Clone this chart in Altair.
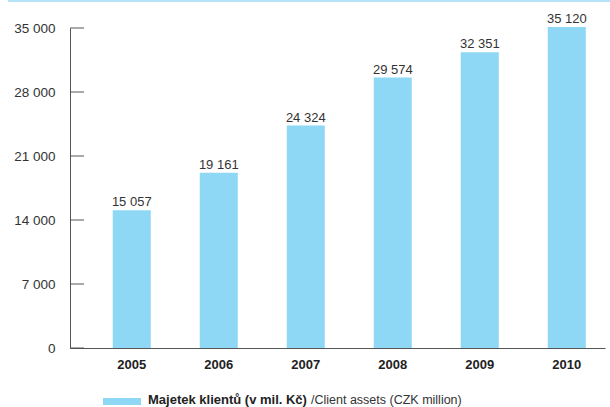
import altair as alt
import pandas as pd

years = ["2005", "2006", "2007", "2008", "2009", "2010"]
values = [15057, 19161, 24324, 29574, 32351, 35120]
y_ticks = [0, 7000, 14000, 21000, 28000, 35000]
legend_bold = "Majetek klientů (v mil. Kč)"
legend_regular = "/Client assets (CZK million)"

BAR = "#8ed8f6"
FONT = "Liberation Sans"
TXT = "#333333"

df = pd.DataFrame({"year": years, "value": values})
ticks_df = pd.DataFrame({"t": y_ticks})

x_enc = alt.X("year:N", title=None,
              scale=alt.Scale(paddingInner=0.563, paddingOuter=0.356, align=0.69),
              axis=alt.Axis(labelAngle=0, ticks=False, domainColor="#555555",
                            labelFont=FONT, labelFontSize=13, labelFontWeight="bold",
                            labelColor="#222222", labelPadding=10))
y_scale = alt.Scale(domain=[0, 35000], nice=False)

bars = alt.Chart(df).mark_bar(color=BAR).encode(
    x=x_enc,
    y=alt.Y("value:Q", title=None, scale=y_scale,
            axis=alt.Axis(values=y_ticks, ticks=False, grid=False, domainColor="#555555",
                          labelFont=FONT, labelFontSize=13.5, labelColor=TXT, labelPadding=15,
                          labelExpr="replace(format(datum.value, ','), ',', ' ')")),
)

labels = alt.Chart(df).transform_calculate(
    lab="replace(format(datum.value, ','), ',', ' ')"
).mark_text(font=FONT, fontSize=13, color=TXT, baseline="alphabetic", dy=-4).encode(
    x="year:N", y=alt.Y("value:Q", scale=y_scale), text="lab:N"
)

tick_rules = alt.Chart(ticks_df).mark_rule(color="#555555", strokeWidth=1).encode(
    y=alt.Y("t:Q", scale=y_scale), x=alt.value(0), x2=alt.value(14)
)

top_line = alt.Chart(df).mark_rule(color="#b3e4f7", strokeWidth=2).encode(
    x=alt.value(-62), x2=alt.value(540), y=alt.value(-27)
)

leg_rect = alt.Chart(df).mark_rect(color=BAR).encode(
    x=alt.value(33), x2=alt.value(71), y=alt.value(370), y2=alt.value(377)
)
leg_t1 = alt.Chart(pd.DataFrame({"s": [legend_bold]})).mark_text(
    font=FONT, fontSize=13, fontWeight="bold", color="#222222", align="left", baseline="alphabetic"
).encode(x=alt.value(78), y=alt.value(375.5), text="s:N")
leg_t2 = alt.Chart(pd.DataFrame({"s": [legend_regular]})).mark_text(
    font=FONT, fontSize=12.5, color=TXT, align="left", baseline="alphabetic"
).encode(x=alt.value(241), y=alt.value(375.5), text="s:N")

chart = alt.layer(top_line, bars, labels, tick_rules, leg_rect, leg_t1, leg_t2).properties(
    width=535, height=320,
    padding={"left": 70, "top": 28, "right": 5, "bottom": 59},
    autosize=alt.AutoSizeParams(type="none"),
).configure_view(stroke=None)

chart.save("out.html", embed_options={"renderer": "svg", "actions": False})
